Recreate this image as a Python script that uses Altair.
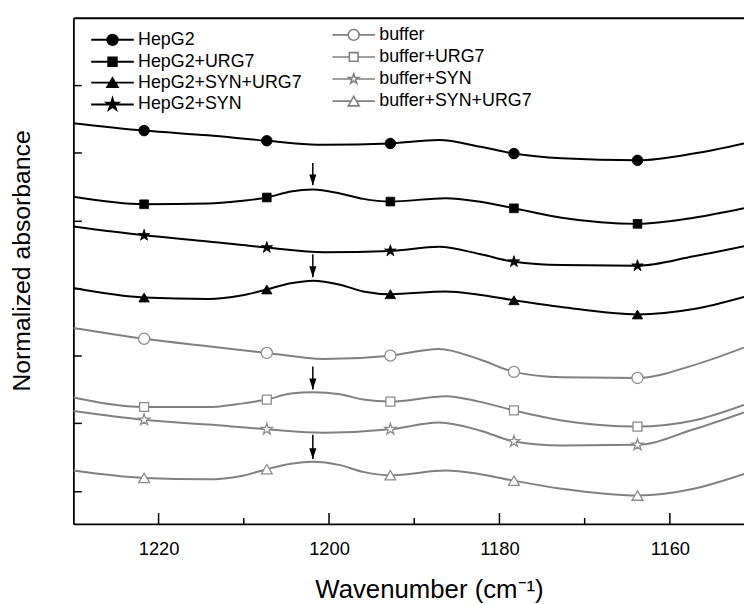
import math
import altair as alt
import pandas as pd

# ---------------- data ----------------
series_black = ["HepG2", "HepG2+URG7", "HepG2+SYN+URG7", "HepG2+SYN"]
series_grey = ["buffer", "buffer+URG7", "buffer+SYN", "buffer+SYN+URG7"]

# wavenumber sample positions (cm-1)
x_a = [1230, 1221.7, 1214.2, 1210.3, 1207.3, 1204.5, 1201.9, 1198.7, 1196.0,
       1192.8, 1186.3, 1182.4, 1178.3, 1172.7, 1163.8, 1157.2, 1151.3]
x_b = [1230, 1221.7, 1214.2, 1207.3, 1200.6, 1192.8, 1187.1, 1182.2, 1178.3,
       1172.7, 1163.8, 1157.2, 1151.3]
marker_x = [1221.7, 1207.3, 1192.8, 1178.3, 1163.8]

y_hepg2 = [5.44, 5.33, 5.26, 5.18, 5.12, 5.14, 5.19, 5.09, 4.99, 4.92, 4.89, 4.99, 5.14]
y_hepg2_urg7 = [4.35, 4.24, 4.25, 4.29, 4.34, 4.43, 4.46, 4.40, 4.32, 4.28, 4.33, 4.28,
                4.18, 4.04, 3.95, 4.04, 4.18]
y_hepg2_syn_urg7 = [3.00, 2.86, 2.84, 2.89, 2.98, 3.07, 3.11, 3.05, 2.95, 2.91, 2.95, 2.90,
                    2.82, 2.72, 2.61, 2.69, 2.87]
y_hepg2_syn = [3.91, 3.78, 3.69, 3.60, 3.53, 3.55, 3.61, 3.50, 3.39, 3.34, 3.33, 3.47, 3.62]
y_buffer = [2.41, 2.25, 2.14, 2.04, 1.95, 2.00, 2.10, 1.94, 1.76, 1.68, 1.67, 1.86, 2.12]
y_buffer_urg7 = [1.38, 1.24, 1.24, 1.29, 1.35, 1.44, 1.46, 1.43, 1.35, 1.32, 1.40, 1.32,
                 1.19, 1.04, 0.95, 1.04, 1.27]
y_buffer_syn = [1.18, 1.05, 0.98, 0.91, 0.86, 0.91, 1.01, 0.89, 0.73, 0.67, 0.68, 0.91, 1.16]
y_buffer_syn_urg7 = [0.30, 0.19, 0.17, 0.22, 0.32, 0.40, 0.43, 0.38, 0.28, 0.23, 0.30, 0.25,
                     0.15, 0.03, -0.07, 0.03, 0.25]

# arrows marking the 1202 cm-1 band
arrow_x = [1201.9, 1201.9, 1201.9, 1201.9]
arrow_top = [4.85, 3.50, 1.84, 0.83]
arrow_tip = [4.52, 3.16, 1.50, 0.47]

x_major = [1220, 1200, 1180, 1160]
x_minor = [1210, 1190, 1170]
y_tick_values = [0, 1, 2, 3, 4, 5, 6]

# ---------------- tables ----------------
series_data = [
    ("HepG2", x_b, y_hepg2),
    ("HepG2+URG7", x_a, y_hepg2_urg7),
    ("HepG2+SYN+URG7", x_a, y_hepg2_syn_urg7),
    ("HepG2+SYN", x_b, y_hepg2_syn),
    ("buffer", x_b, y_buffer),
    ("buffer+URG7", x_a, y_buffer_urg7),
    ("buffer+SYN", x_b, y_buffer_syn),
    ("buffer+SYN+URG7", x_a, y_buffer_syn_urg7),
]
rows = []
for name, xs, ys in series_data:
    for xv, yv in zip(xs, ys):
        rows.append({
            "series": name,
            "group": "black" if name in series_black else "grey",
            "x": xv, "y": yv,
            "marker": xv in marker_x,
        })
df = pd.DataFrame(rows)
arrows = pd.DataFrame({"x": arrow_x, "top": arrow_top, "tip": arrow_tip})
ticks_major = pd.DataFrame({"x": x_major})
ticks_minor = pd.DataFrame({"x": x_minor})

# ---------------- styling ----------------
FONT = "Liberation Sans"
BLACK = "#000000"
GREY = "#808080"
GREY_MK = "#8c8c8c"
W, H = 677, 511


def star(r, inner=0.382):
    pts = []
    for k in range(10):
        ang = math.radians(-90 + 36 * k)
        rad = r if k % 2 == 0 else r * inner
        pts.append(f"{rad * math.cos(ang):.3f},{rad * math.sin(ang):.3f}")
    return "M" + "L".join(pts) + "Z"


def circle(r):
    return f"M-{r},0A{r},{r},0,1,1,{r},0A{r},{r},0,1,1,-{r},0Z"


def square(h):
    return f"M-{h},-{h}H{h}V{h}H-{h}Z"


def tri(w, h):
    return f"M0,-{h}L{w},{h}H-{w}Z"


# marker shapes (unit = sqrt(size)/2 px)
MK_BLACK = [circle(1.07), square(0.88), tri(1.05, 0.9), star(1.22)]
MK_GREY = [circle(1.12), square(0.9), star(1.2), tri(1.1, 0.95)]
HEAD = "M-0.65,-2L0.65,-2L0,0Z"

L = 4.3
def with_line(shape_path, gap):
    return f"M-{L},0H-{gap}M{gap},0H{L}" + shape_path

LEG_BLACK = [with_line(circle(1.05), 1.05), with_line(square(0.85), 0.85),
             with_line(tri(1.05, 0.9), 0.52), with_line(star(1.2), 0.6)]
LEG_GREY = [with_line(circle(1.1), 1.1), with_line(square(0.88), 0.88),
            with_line(star(1.05), 0.55), with_line(tri(1.1, 0.95), 0.55)]

xscale = alt.Scale(domain=[1230, 1151.3], nice=False, zero=False)
yscale = alt.Scale(domain=[-0.49, 7.0], nice=False, zero=False)

# bottom axis: frame line, labels and title (inward ticks are drawn as rules below)
x_bottom = alt.Axis(
    orient="bottom", values=x_major, format="d", ticks=False,
    domainColor=BLACK, domainWidth=1.8,
    labelFont=FONT, labelFontSize=18.5, labelColor=BLACK, labelPadding=15.5,
    grid=False,
    title="Wavenumber (cm⁻¹)", titleFont=FONT, titleFontSize=26,
    titleFontWeight="normal", titleColor=BLACK, titlePadding=19, titleX=359,
)
# top frame line
x_top = alt.Axis(orient="top", ticks=False, labels=False, domain=True,
                 domainColor=BLACK, domainWidth=1.8, grid=False, title=None)
y_left = alt.Axis(
    orient="left", values=y_tick_values, labels=False, ticks=False,
    domainColor=BLACK, domainWidth=1.8, grid=False,
    title="Normalized absorbance", titleFont=FONT, titleFontSize=25,
    titleFontWeight="normal", titleColor=BLACK, titlePadding=39, titleY=245,
)
# inward ticks along the left edge (right axis moved onto the left edge)
y_ticks = alt.Axis(orient="right", offset=-W, values=y_tick_values, labels=False, domain=False,
                   tickSize=8, tickWidth=1.5, tickColor=BLACK, grid=False, title=None)

lines = alt.Chart(df).mark_line(interpolate="monotone", strokeWidth=2, clip=True).encode(
    x=alt.X("x:Q", scale=xscale, axis=x_bottom),
    y=alt.Y("y:Q", scale=yscale, axis=y_left),
    detail="series:N",
    stroke=alt.Stroke("group:N", scale=alt.Scale(domain=["black", "grey"], range=[BLACK, GREY]),
                      legend=None),
)

mk_black = alt.Chart(df).transform_filter(
    "datum.marker && datum.group == 'black'"
).mark_point(filled=True, fill=BLACK, stroke=BLACK, strokeWidth=0.8, opacity=1, size=100).encode(
    x=alt.X("x:Q", scale=xscale, axis=x_top),
    y=alt.Y("y:Q", scale=yscale, axis=y_ticks),
    shape=alt.Shape("series:N", scale=alt.Scale(domain=series_black, range=MK_BLACK),
                    legend=None),
)

mk_grey = alt.Chart(df).transform_filter(
    "datum.marker && datum.group == 'grey'"
).mark_point(filled=True, fill="white", stroke=GREY_MK, strokeWidth=1.3, opacity=1,
             size=100).encode(
    x=alt.X("x:Q", scale=xscale, axis=None),
    y=alt.Y("y:Q", scale=yscale, axis=None),
    shape=alt.Shape("series:N", scale=alt.Scale(domain=series_grey, range=MK_GREY),
                    legend=None),
)

# inward x ticks (major 11 px, minor 6 px), placed by the x scale at the tick values
tick_major = alt.Chart(ticks_major).mark_rule(color=BLACK, strokeWidth=1.5).encode(
    x=alt.X("x:Q", scale=xscale, axis=None), y=alt.value(H), y2=alt.value(H - 11)
)
tick_minor = alt.Chart(ticks_minor).mark_rule(color=BLACK, strokeWidth=1.5).encode(
    x=alt.X("x:Q", scale=xscale, axis=None), y=alt.value(H), y2=alt.value(H - 6)
)

arrow_rule = alt.Chart(arrows).mark_rule(color=BLACK, strokeWidth=1.5).encode(
    x=alt.X("x:Q", scale=xscale, axis=None),
    y=alt.Y("top:Q", scale=yscale, axis=None),
    y2="tip:Q",
)
arrow_head = alt.Chart(arrows).mark_point(shape=HEAD, filled=True, fill=BLACK, size=121,
                                          opacity=1, strokeWidth=0).encode(
    x=alt.X("x:Q", scale=xscale, axis=None),
    y=alt.Y("tip:Q", scale=yscale, axis=None),
)

leg_black = alt.Chart(df).transform_filter("false").mark_point(
    filled=False, fill=BLACK, stroke=BLACK, strokeWidth=2, opacity=1, size=100
).encode(
    x=alt.X("x:Q", scale=xscale, axis=None),
    y=alt.Y("y:Q", scale=yscale, axis=None),
    shape=alt.Shape("series:N", scale=alt.Scale(domain=series_black, range=LEG_BLACK),
                    legend=alt.Legend(title=None, orient="none", legendX=30.5, legendY=13.3,
                                      symbolSize=100, symbolStrokeWidth=2,
                                      labelFont=FONT, labelFontSize=18, labelColor=BLACK,
                                      labelLimit=400, labelOffset=16.8, rowPadding=3.1,
                                      padding=0)),
)

leg_grey = alt.Chart(df).transform_filter("false").mark_point(
    filled=False, fill="white", stroke=GREY, strokeWidth=1.8, opacity=1, size=100
).encode(
    x=alt.X("x:Q", scale=xscale, axis=None),
    y=alt.Y("y:Q", scale=yscale, axis=None),
    shape=alt.Shape("series:N", scale=alt.Scale(domain=series_grey, range=LEG_GREY),
                    legend=alt.Legend(title=None, orient="none", legendX=274, legendY=8.3,
                                      symbolSize=100, symbolStrokeWidth=1.6,
                                      labelFont=FONT, labelFontSize=18, labelColor=BLACK,
                                      labelLimit=400, labelOffset=16.8, rowPadding=4.3,
                                      padding=0)),
)

chart = alt.layer(
    lines, mk_black, mk_grey, tick_major, tick_minor, arrow_rule, arrow_head,
    leg_black, leg_grey
).resolve_scale(
    shape="independent"
).resolve_axis(
    x="independent", y="independent"
).resolve_legend(
    shape="independent"
).properties(
    width=W, height=H,
    padding={"left": 2, "top": 7, "right": 0, "bottom": 0},
    background="white",
).configure_view(strokeWidth=0).configure(font=FONT)

chart.save("out.html", embed_options={"renderer": "svg", "actions": False})
